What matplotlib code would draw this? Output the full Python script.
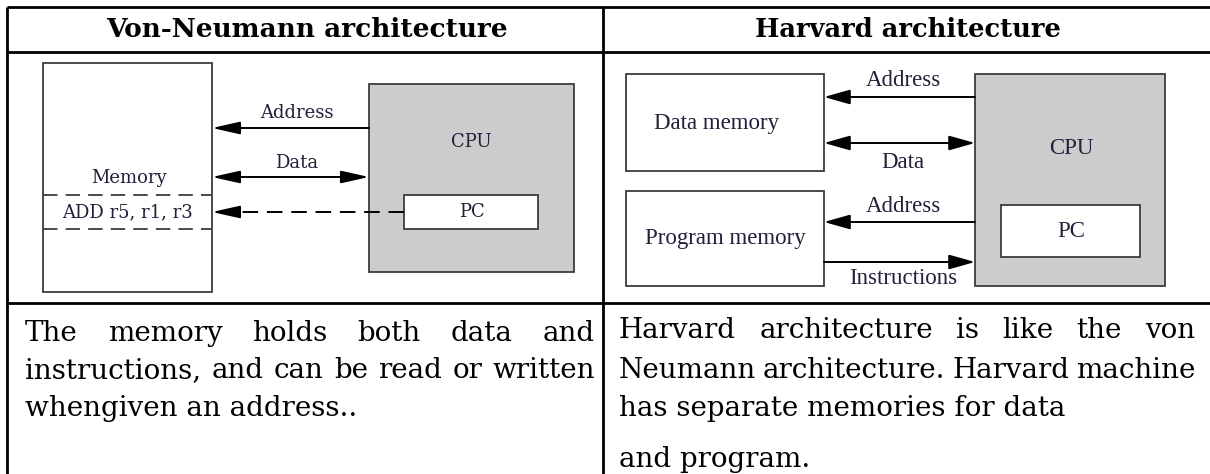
import matplotlib
matplotlib.use('Agg')
from matplotlib import pyplot as plt
from matplotlib.patches import Rectangle

#%% Texts
headers = ['Von-Neumann architecture', 'Harvard architecture']

vn_lines = ['The memory holds both data and',
            'instructions, and can be read or written',
            'whengiven an address..']
vn_justify = [True, True, False]

hv_lines = ['Harvard architecture is like the von',
            'Neumann architecture. Harvard machine',
            'has separate memories for data',
            'and program.']
hv_justify = [True, True, False, False]

vn_labels = {'address': 'Address', 'data': 'Data', 'cpu': 'CPU', 'memory': 'Memory',
             'instr': 'ADD r5, r1, r3', 'pc': 'PC'}
hv_labels = {'address': 'Address', 'data': 'Data', 'cpu': 'CPU', 'dmem': 'Data memory',
             'pmem': 'Program memory', 'pc': 'PC', 'instr': 'Instructions'}

#%% Styles
W, H = 1210, 474
body_font = 'DejaVu Serif'
body_size = 20
vn_font = 'DejaVu Serif'
vn_size = 13
hv_font = 'Liberation Serif'
hv_size = 16.5
txtcol = '#20203a'
boxcol = '#3c3c3c'
cpufill = '#cccccc'

fig = plt.figure(figsize=(W / 100, H / 100), dpi=100)
ax = fig.add_axes([0, 0, 1, 1])
ax.set_xlim(0, W)
ax.set_ylim(H, 0)
ax.axis('off')
renderer = fig.canvas.get_renderer()

#%% Table grid
tlw = 2.0
ax.plot([7, W], [7, 7], color='k', lw=tlw, solid_capstyle='butt')
ax.plot([7, W], [52, 52], color='k', lw=tlw, solid_capstyle='butt')
ax.plot([7, W], [303, 303], color='k', lw=tlw, solid_capstyle='butt')
ax.plot([7, 7], [7, H], color='k', lw=tlw, solid_capstyle='butt')
ax.plot([603, 603], [7, H], color='k', lw=tlw, solid_capstyle='butt')

ax.text(307, 29, headers[0], family=body_font, weight='bold', size=19,
        ha='center', va='center')
ax.text(908, 29, headers[1], family=body_font, weight='bold', size=18.5,
        ha='center', va='center')


def box(x0, y0, x1, y1, fc='white'):
    ax.add_patch(Rectangle((x0, y0), x1 - x0, y1 - y0, fc=fc, ec=boxcol, lw=1.3))


def arrow(x_tail, x_head, y, style, hl, hw, ls='-'):
    ax.annotate('', xy=(x_head, y), xytext=(x_tail, y),
                arrowprops=dict(arrowstyle=f'{style},head_length={hl},head_width={hw}',
                                mutation_scale=10, lw=1.4, color='k',
                                shrinkA=0, shrinkB=0, linestyle=ls))


#%% Von-Neumann diagram
box(43, 63, 212, 292)
box(369, 84, 574, 272, fc=cpufill)
box(404, 195, 538, 229)
dash = (0, (8, 4.5))
ax.plot([43, 212], [195, 195], color=boxcol, lw=1.3, linestyle=dash)
ax.plot([43, 212], [229, 229], color=boxcol, lw=1.3, linestyle=dash)

arrow(369, 212, 128, '-|>', 1.7, 0.38)
arrow(369, 212, 177, '<|-|>', 1.7, 0.38)
ax.plot([404, 236], [212, 212], color='k', lw=1.4, linestyle=(0, (8, 4.5)))
arrow(240, 212, 212, '-|>', 1.7, 0.38)

vk = dict(family=vn_font, size=vn_size, color=txtcol, ha='center', va='center')
ax.text(297, 113, vn_labels['address'], **vk)
ax.text(297, 163, vn_labels['data'], **vk)
ax.text(471, 142, vn_labels['cpu'], **vk)
ax.text(129, 178, vn_labels['memory'], **vk)
ax.text(127, 212, vn_labels['instr'], **vk)
ax.text(472, 212, vn_labels['pc'], **vk)

#%% Harvard diagram
box(626, 74, 824, 171)
box(626, 191, 824, 286)
box(975, 74, 1165, 286, fc=cpufill)
box(1001, 205, 1140, 257)

arrow(975, 824, 97, '-|>', 1.6, 0.45)
arrow(975, 824, 143, '<|-|>', 1.6, 0.45)
arrow(975, 824, 222, '-|>', 1.6, 0.45)
arrow(824, 975, 262, '-|>', 1.6, 0.45)

hk = dict(family=hv_font, size=hv_size, color=txtcol, ha='center', va='center')
ax.text(903, 80, hv_labels['address'], **hk)
ax.text(903, 162, hv_labels['data'], **hk)
ax.text(717, 123, hv_labels['dmem'], **hk)
ax.text(1071, 148, hv_labels['cpu'], **hk)
ax.text(903, 206, hv_labels['address'], **hk)
ax.text(1071, 231, hv_labels['pc'], **hk)
ax.text(725, 238, hv_labels['pmem'], **hk)
ax.text(903, 279, hv_labels['instr'], **hk)


#%% Body text, justified like the document
def put_line(line, x0, x1, y, justify):
    tk = dict(family=body_font, size=body_size, color='k', va='baseline', ha='left')
    if not justify:
        ax.text(x0, y, line, **tk)
        return
    words = line.split()
    widths = []
    for w in words:
        t = ax.text(0, 0, w, **tk)
        widths.append(t.get_window_extent(renderer).width)
        t.remove()
    gap = (x1 - x0 - sum(widths)) / (len(words) - 1)
    x = x0
    for w, wd in zip(words, widths):
        ax.text(x, y, w, **tk)
        x += wd + gap


vn_base = [341, 378, 416]
for line, yb, j in zip(vn_lines, vn_base, vn_justify):
    put_line(line, 25, 595, yb, j)

hv_base = [338, 378, 416, 467]
for line, yb, j in zip(hv_lines, hv_base, hv_justify):
    put_line(line, 619, 1195, yb, j)

fig.savefig('out.png', dpi=100)
